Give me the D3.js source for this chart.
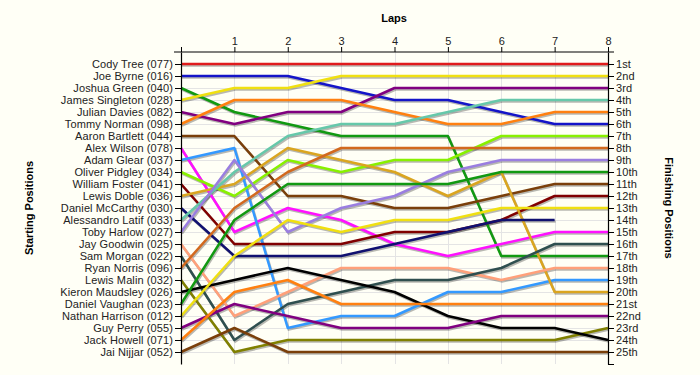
<!DOCTYPE html>
<html>
<head>
<meta charset="utf-8">
<script src="https://cdn.jsdelivr.net/npm/d3@7/dist/d3.min.js"></script>
<style>
  body { margin: 0; background: #fffff6; }
  text { font-family: "Liberation Sans", Arial, sans-serif; }
</style>
</head>
<body>
<svg id="lapChart" width="700" height="375"></svg>
<script>
// --- data
const riders = [
  "Cody Tree (077)", "Joe Byrne (016)", "Joshua Green (040)", "James Singleton (028)",
  "Julian Davies (082)", "Tommy Norman (098)", "Aaron Bartlett (044)", "Alex Wilson (078)",
  "Adam Glear (037)", "Oliver Pidgley (034)", "William Foster (041)", "Lewis Doble (036)",
  "Daniel McCarthy (030)", "Alessandro Latif (033)", "Toby Harlow (027)", "Jay Goodwin (025)",
  "Sam Morgan (022)", "Ryan Norris (096)", "Lewis Malin (032)", "Kieron Maudsley (026)",
  "Daniel Vaughan (023)", "Nathan Harrison (012)", "Guy Perry (055)", "Jack Howell (071)",
  "Jai Nijjar (052)"
];

const riderColours = [
  "#e01b1b", "#1414c8", "#119911", "#f0e010", "#800080", "#ff8010", "#7a3f0a", "#ff10ff",
  "#3399ff", "#88f000", "#800000", "#daa520", "#101070", "#66c8aa", "#9a7ee0", "#ffa07a",
  "#2f4f4f", "#d2691e", "#808000", "#000000", "#119911", "#f0e010", "#800080", "#ff8010",
  "#7a3f0a"
];

const laps = [0, 1, 2, 3, 4, 5, 6, 7, 8];
const lapTickLabels = ["1", "2", "3", "4", "5", "6", "7", "8"];
const finishLabels = [
  "1st", "2nd", "3rd", "4th", "5th", "6th", "7th", "8th", "9th", "10th", "11th", "12th",
  "13th", "14th", "15th", "16th", "17th", "18th", "19th", "20th", "21st", "22nd", "23rd",
  "24th", "25th"
];

// position of each rider after each lap (null = retired)
const lapPositions = [
  [1, 1, 1, 1, 1, 1, 1, 1, 1],
  [2, 2, 2, 3, 4, 4, 5, 6, 6],
  [3, 5, 6, 7, 7, 7, 17, 17, 17],
  [4, 3, 3, 2, 2, 2, 2, 2, 2],
  [5, 6, 5, 5, 3, 3, 3, 3, 3],
  [6, 4, 4, 4, 5, 6, 6, 5, 5],
  [7, 7, 12, 12, 13, 13, 12, 11, 11],
  [8, 15, 13, 14, 16, 17, 16, 15, 15],
  [9, 8, 23, 22, 22, 20, 20, 19, 19],
  [10, 12, 9, 10, 9, 9, 7, 7, 7],
  [11, 16, 16, 16, 15, 15, 14, 12, 12],
  [12, 11, 8, 9, 10, 12, 10, 20, 20],
  [13, 17, 17, 17, 16, 15, 14, 14, null],
  [14, 10, 7, 6, 6, 5, 4, 4, 4],
  [15, 9, 15, 13, 12, 10, 9, 9, 9],
  [16, 22, 20, 18, 18, 18, 19, 18, 18],
  [17, 24, 21, 20, 19, 19, 18, 16, 16],
  [18, 13, 10, 8, 8, 8, 8, 8, 8],
  [19, 25, 24, 24, 24, 24, 24, 24, 23],
  [20, 19, 18, 19, 20, 22, 23, 23, 24],
  [21, 14, 11, 11, 11, 11, 10, 10, 10],
  [22, 17, 14, 15, 14, 14, 13, 13, 13],
  [23, 21, 22, 23, 23, 23, 22, 22, 22],
  [24, 20, 19, 21, 21, 21, 21, 21, 21],
  [25, 23, 25, 25, 25, 25, 25, 25, 25]
];

// --- chart
const svg = d3.select("#lapChart");

const x = d3.scaleLinear().domain([0, 8]).range([181, 608]);
const y = d3.scaleLinear().domain([0, 26]).range([52, 364]);
const positions = d3.range(1, 26);

// grid
const grid = svg.append("g").attr("stroke", "#e4e4e4").attr("stroke-width", 1);
grid.selectAll("line.h")
  .data(positions)
  .enter().append("line")
  .attr("x1", x(0)).attr("x2", x(8))
  .attr("y1", d => Math.round(y(d)) + 0.5).attr("y2", d => Math.round(y(d)) + 0.5);
grid.selectAll("line.v")
  .data(laps.slice(1, 8))
  .enter().append("line")
  .attr("x1", d => Math.round(x(d)) + 0.5).attr("x2", d => Math.round(x(d)) + 0.5)
  .attr("y1", y(0)).attr("y2", y(26));

// lines
const line = d3.line()
  .defined(d => d != null)
  .x((d, i) => x(laps[i]))
  .y(d => y(d));

// soft shadow under every line
svg.append("g")
  .attr("transform", "translate(1,1.5)")
  .selectAll("path")
  .data(lapPositions)
  .enter().append("path")
  .attr("d", line)
  .attr("fill", "none")
  .attr("stroke", "rgba(0,0,0,0.28)")
  .attr("stroke-width", 2.5);

svg.append("g")
  .selectAll("path")
  .data(lapPositions)
  .enter().append("path")
  .attr("d", line)
  .attr("fill", "none")
  .attr("stroke", (d, i) => riderColours[i])
  .attr("stroke-width", 2.5)
  .attr("stroke-linejoin", "round");

// axes
const axisLeft = svg.append("g")
  .attr("transform", "translate(" + x(0) + ",0)")
  .call(d3.axisLeft(y)
    .tickValues(positions)
    .tickFormat(d => riders[d - 1])
    .tickSizeInner(6)
    .tickSizeOuter(0));

const axisRight = svg.append("g")
  .attr("transform", "translate(" + x(8) + ",0)")
  .call(d3.axisRight(y)
    .tickValues(positions.concat([26]))
    .tickFormat(d => d <= 25 ? finishLabels[d - 1] : "")
    .tickSizeInner(6)
    .tickSizeOuter(0));

const axisTop = svg.append("g")
  .attr("transform", "translate(0," + y(0) + ")")
  .call(d3.axisTop(x)
    .tickValues(laps)
    .tickFormat(d => d === 0 ? "" : lapTickLabels[d - 1])
    .tickSizeInner(5)
    .tickSizeOuter(0));

// top axis line runs a little past both ends
axisTop.select(".domain").remove();
axisTop.append("line")
  .attr("x1", 174).attr("x2", 614)
  .attr("y1", 0).attr("y2", 0)
  .attr("stroke", "#000").attr("stroke-width", 1.2);

[axisLeft, axisRight, axisTop].forEach(a => {
  a.selectAll("text")
    .attr("fill", "#222")
    .style("font-size", "11px")
    .style("letter-spacing", "0.1px")
    .style("font-family", "'Liberation Sans', Arial, sans-serif");
  a.selectAll(".domain").attr("stroke", "#000").attr("stroke-width", 1.2);
});
axisLeft.selectAll("text").attr("x", -8);
axisRight.selectAll("text").attr("x", 8);
axisTop.selectAll("text").attr("y", -7);

// titles
svg.append("text")
  .attr("x", 394).attr("y", 22)
  .attr("text-anchor", "middle")
  .style("font-size", "11px").style("font-weight", "bold")
  .text("Laps");

svg.append("text")
  .attr("transform", "translate(33,208) rotate(-90)")
  .attr("text-anchor", "middle")
  .style("font-size", "11px").style("font-weight", "bold")
  .text("Starting Positions");

svg.append("text")
  .attr("transform", "translate(665,208) rotate(90)")
  .attr("text-anchor", "middle")
  .style("font-size", "11px").style("font-weight", "bold")
  .text("Finishing Positions");
</script>
</body>
</html>
